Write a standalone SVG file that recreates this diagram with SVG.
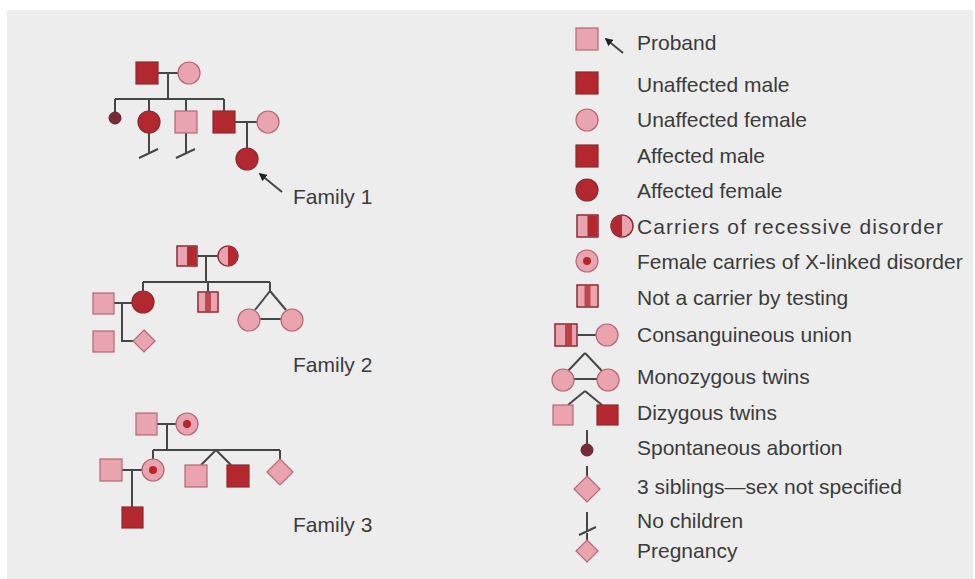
<svg xmlns="http://www.w3.org/2000/svg" width="975" height="579" viewBox="0 0 975 579">
<defs>
<style>
.ln{stroke:#464646;stroke-width:2;fill:none}
.aff{fill:#b3282e;stroke:#8a2a31;stroke-width:1.2}
.pk{fill:#e9a4b0;stroke:#b56874;stroke-width:1.2}
.dk{fill:#7a2a36;stroke:#5a2029;stroke-width:1}
.hd{fill:#b3282e}
.t{font-family:"Liberation Sans",Arial,sans-serif;font-size:21px;fill:#3b3b3b}
</style>
<marker id="ah" viewBox="0 0 10 10" refX="8" refY="5" markerWidth="4" markerHeight="4" orient="auto">
<path d="M0,0 L10,5 L0,10 z" fill="#222"/>
</marker>
</defs>
<rect x="0" y="0" width="975" height="579" fill="#ffffff"/>
<rect x="7" y="10" width="966" height="569" fill="#ededed"/>

<g id="connectors">
<!-- Family 1 -->
<path class="ln" d="M158,73 H178 M168,73 V99 M115,99 H224 M115,99 V112 M149,99 V111 M186,99 V111 M224,99 V111 M235,122 H257 M247,122 V148"/>
<path class="ln" d="M149,133 V153 M139,158 L158,149 M186,133 V153 M176,158 L195,149"/>
<path class="ln" stroke="#222" d="M282,192 L260,174" marker-end="url(#ah)"/>
<!-- Family 2 -->
<path class="ln" d="M197,256 H218 M206,256 V282 M143,282 H270 M143,282 V291 M208,282 V292 M270,282 V291 L255,310 M270,291 L286,310 M260,319 H281 M113,303 H132 M122,303 V341 H133"/>
<!-- Family 3 -->
<path class="ln" d="M157,424 H176 M167,424 V450 M153,450 H280 M153,450 V459 M280,450 V459 M122,470 H142 M132,470 V507 M216,450 L201,465 M216,450 L231,465"/>
<!-- Legend -->
<path class="ln" stroke="#222" d="M623,53 L606,39" marker-end="url(#ah)"/>
<path class="ln" d="M577,335 H597 M585,353 L568,371 M585,353 L602,371 M574,379 H597 M585,391 L568,405 M585,391 L602,405 M587,430 V444 M587,466 V476 M587,512 V531 M579,535 L596,527 M587,533 V541"/>
</g>

<g id="family1">
<g id="f1-father"><rect class="aff" x="136" y="62" width="22" height="22"/></g>
<g id="f1-mother"><circle class="pk" cx="189" cy="73" r="11"/></g>
<g id="f1-abortion"><circle class="dk" cx="115" cy="118" r="6"/></g>
<g id="f1-daughter"><circle class="aff" cx="149" cy="122" r="11"/></g>
<g id="f1-son1"><rect class="pk" x="175" y="111" width="22" height="22"/></g>
<g id="f1-son2"><rect class="aff" x="213" y="111" width="22" height="22"/></g>
<g id="f1-wife"><circle class="pk" cx="268" cy="122" r="11"/></g>
<g id="f1-proband"><circle class="aff" cx="247" cy="159" r="11"/></g>
<text class="t" x="293" y="204">Family 1</text>
</g>

<g id="family2">
<g id="f2-father"><rect class="pk" x="177" y="246" width="20" height="20"/><rect class="hd" x="187" y="246.6" width="9.4" height="18.8"/><rect x="177" y="246" width="20" height="20" fill="none" stroke="#8a2a31" stroke-width="1.2"/></g>
<g id="f2-mother"><circle class="pk" cx="228" cy="256" r="10"/><path class="hd" d="M228,246.6 A9.4,9.4 0 0 1 228,265.4 z"/><circle cx="228" cy="256" r="10" fill="none" stroke="#8a2a31" stroke-width="1.2"/></g>
<g id="f2-daughter"><circle class="aff" cx="143" cy="302" r="11"/></g>
<g id="f2-son"><rect class="pk" x="198" y="292" width="20" height="20"/><rect class="hd" x="205" y="292.6" width="6" height="18.8" opacity="0.75"/><rect x="198" y="292" width="20" height="20" fill="none" stroke="#8a2a31" stroke-width="1.2"/></g>
<g id="f2-twin1"><circle class="pk" cx="249" cy="320" r="11"/></g>
<g id="f2-twin2"><circle class="pk" cx="292" cy="320" r="11"/></g>
<g id="f2-husband"><rect class="pk" x="93" y="293" width="21" height="21"/></g>
<g id="f2-child"><rect class="pk" x="93" y="331" width="21" height="21"/></g>
<g id="f2-pregnancy"><polygon class="pk" points="144,330 155,341 144,352 133,341" fill="#d99aa6"/></g>
<text class="t" x="293" y="372">Family 2</text>
</g>

<g id="family3">
<g id="f3-father"><rect class="pk" x="136" y="413" width="21" height="22"/></g>
<g id="f3-mother"><circle class="pk" cx="187" cy="424" r="11"/><circle class="hd" cx="187" cy="424" r="4"/></g>
<g id="f3-daughter"><circle class="pk" cx="153" cy="470" r="11"/><circle class="hd" cx="153" cy="470" r="4"/></g>
<g id="f3-husband"><rect class="pk" x="100" y="459" width="22" height="22"/></g>
<g id="f3-grandson"><rect class="aff" x="122" y="507" width="21" height="21"/></g>
<g id="f3-twin1"><rect class="pk" x="185" y="465" width="22" height="22"/></g>
<g id="f3-twin2"><rect class="aff" x="227" y="465" width="22" height="22"/></g>
<g id="f3-siblings"><polygon class="pk" points="280,459 293,472 280,485 267,472" fill="#d99aa6"/></g>
<text class="t" x="293" y="532">Family 3</text>
</g>

<g id="legend">
<g id="lg-proband"><rect class="pk" x="576" y="28" width="22" height="22"/></g>
<text class="t" x="637" y="50">Proband</text>
<g id="lg-unaffected-male"><rect class="aff" x="576" y="72" width="22" height="22"/></g>
<text class="t" x="637" y="92">Unaffected male</text>
<g id="lg-unaffected-female"><circle class="pk" cx="587" cy="120" r="11"/></g>
<text class="t" x="637" y="127">Unaffected female</text>
<g id="lg-affected-male"><rect class="aff" x="576" y="145" width="22" height="22"/></g>
<text class="t" x="637" y="163">Affected male</text>
<g id="lg-affected-female"><circle class="aff" cx="587" cy="190" r="11"/></g>
<text class="t" x="637" y="198">Affected female</text>
<g id="lg-carriers"><rect class="pk" x="577" y="215" width="21" height="22"/><rect class="hd" x="587.5" y="215.6" width="9.9" height="20.8"/><rect x="577" y="215" width="21" height="22" fill="none" stroke="#8a2a31" stroke-width="1.2"/><circle class="pk" cx="622" cy="226" r="11"/><path class="hd" d="M622,215.6 A10.4,10.4 0 0 0 622,236.4 z"/><circle cx="622" cy="226" r="11" fill="none" stroke="#8a2a31" stroke-width="1.2"/></g>
<text class="t" x="637" y="234" textLength="306" lengthAdjust="spacing">Carriers of recessive disorder</text>
<g id="lg-x-carrier"><circle class="pk" cx="587" cy="261" r="11"/><circle class="hd" cx="587" cy="261" r="4"/></g>
<text class="t" x="637" y="269">Female carries of X-linked disorder</text>
<g id="lg-not-carrier"><rect class="pk" x="577" y="285" width="21" height="22"/><rect class="hd" x="584.5" y="285.6" width="6" height="20.8" opacity="0.75"/><rect x="577" y="285" width="21" height="22" fill="none" stroke="#8a2a31" stroke-width="1.2"/></g>
<text class="t" x="637" y="305">Not a carrier by testing</text>
<g id="lg-consanguineous"><rect class="pk" x="555" y="324" width="22" height="22"/><rect class="hd" x="565" y="324.6" width="7" height="20.8" opacity="0.8"/><rect x="555" y="324" width="22" height="22" fill="none" stroke="#8a2a31" stroke-width="1.2"/><circle class="pk" cx="607" cy="335" r="11"/></g>
<text class="t" x="637" y="342">Consanguineous union</text>
<g id="lg-monozygous"><circle class="pk" cx="563" cy="380" r="11"/><circle class="pk" cx="608" cy="380" r="11"/></g>
<text class="t" x="637" y="384">Monozygous twins</text>
<g id="lg-dizygous"><rect class="pk" x="553" y="405" width="20" height="20"/><rect class="aff" x="597" y="405" width="21" height="20"/></g>
<text class="t" x="637" y="420">Dizygous twins</text>
<g id="lg-abortion"><circle class="dk" cx="587" cy="450" r="6"/></g>
<text class="t" x="637" y="455">Spontaneous abortion</text>
<g id="lg-siblings"><polygon class="pk" points="587,476 600,489 587,502 574,489" fill="#d99aa6"/></g>
<text class="t" x="637" y="494">3 siblings—sex not specified</text>
<g id="lg-no-children"></g>
<text class="t" x="637" y="528">No children</text>
<g id="lg-pregnancy"><polygon class="pk" points="587,540 598,551 587,562 576,551" fill="#d99aa6"/></g>
<text class="t" x="637" y="558">Pregnancy</text>
</g>
</svg>
